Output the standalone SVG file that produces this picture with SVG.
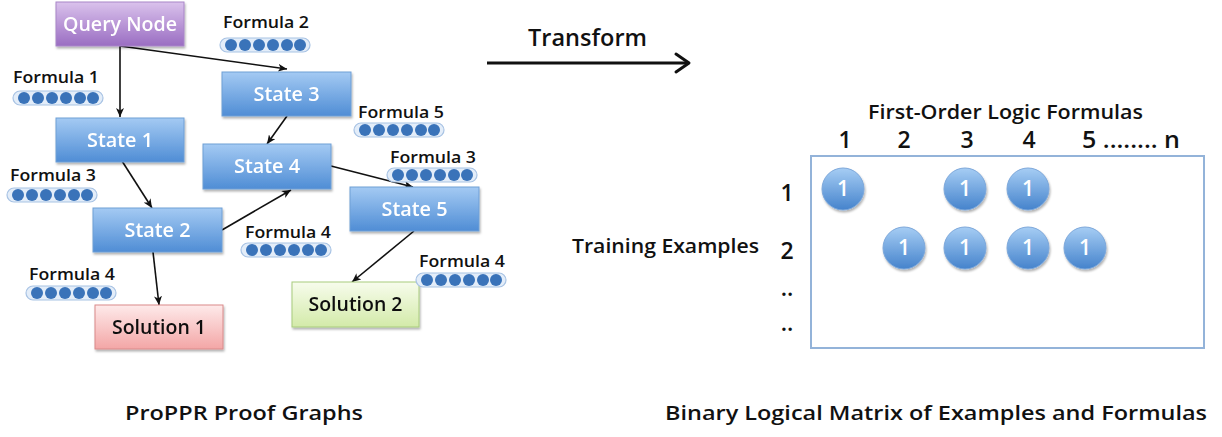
<svg xmlns="http://www.w3.org/2000/svg" width="1222" height="437" viewBox="0 0 1222 437">
<style>
text{font-family:"Open Sans",Lato,"Liberation Sans",sans-serif;font-weight:600}
.nt{fill:#fff;font-size:19px;text-anchor:middle}
.st{fill:#111;font-size:19px;text-anchor:middle}
.fl{fill:#111;font-size:16px}
.lbl{fill:#111;font-size:20px}
.num{fill:#111;font-size:23px;text-anchor:middle}
.one{fill:#fff;font-size:21px;text-anchor:middle}
.state{fill:url(#gState);stroke:#6e9fd6;stroke-width:1}
.pill{fill:#e3edf9;stroke:#a8c3e4;stroke-width:1.2}
.dot{fill:#3a73b9}
.edge{stroke:#111;stroke-width:1.6;fill:none;marker-end:url(#ah)}
.cell{fill:url(#gCirc);stroke:#7ca7da;stroke-width:1}
</style>
<defs>
<linearGradient id="gState" x1="0" y1="0" x2="0" y2="1"><stop offset="0" stop-color="#a4caf3"/><stop offset="1" stop-color="#4f8dd5"/></linearGradient>
<linearGradient id="gQuery" x1="0" y1="0" x2="0" y2="1"><stop offset="0" stop-color="#dac2ec"/><stop offset="1" stop-color="#9a6dc2"/></linearGradient>
<linearGradient id="gSol1" x1="0" y1="0" x2="0" y2="1"><stop offset="0" stop-color="#feeaea"/><stop offset="1" stop-color="#f3a6a6"/></linearGradient>
<linearGradient id="gSol2" x1="0" y1="0" x2="0" y2="1"><stop offset="0" stop-color="#f7fcec"/><stop offset="1" stop-color="#d3eaa9"/></linearGradient>
<linearGradient id="gCirc" x1="0" y1="0" x2="0" y2="1"><stop offset="0" stop-color="#a6cdf4"/><stop offset="1" stop-color="#4583cc"/></linearGradient>
<filter id="sh" x="-10%" y="-10%" width="130%" height="140%"><feDropShadow dx="1" dy="2" stdDeviation="1.2" flood-color="#000" flood-opacity="0.3"/></filter>
<marker id="ah" markerUnits="userSpaceOnUse" markerWidth="10" markerHeight="8" refX="9" refY="4" orient="auto"><path d="M0,0 L9,4 L0,8 L2.5,4 Z" fill="#111"/></marker>
<g id="pillShape">
<rect class="pill" x="0" y="0" width="90" height="14" rx="7"/>
<circle class="dot" cx="11" cy="7" r="6"/><circle class="dot" cx="25" cy="7" r="6"/><circle class="dot" cx="39" cy="7" r="6"/><circle class="dot" cx="53" cy="7" r="6"/><circle class="dot" cx="67" cy="7" r="6"/><circle class="dot" cx="80" cy="7" r="6"/>
</g>
</defs>
<rect width="1222" height="437" fill="#fff"/>

<g id="connectors">
<path class="edge" d="M120,46 L120,117"/>
<path class="edge" d="M120,46 L287,69"/>
<path class="edge" d="M122,161 L152,208"/>
<path class="edge" d="M287,116 L267,144"/>
<path class="edge" d="M222,230 L291,190"/>
<path class="edge" d="M331,166 L413,187"/>
<path class="edge" d="M153,252 L159,305"/>
<path class="edge" d="M414,231 L352,282"/>
</g>

<g id="query-node" filter="url(#sh)"><rect x="56" y="2" width="128" height="44" fill="url(#gQuery)" stroke="#a886c8"/><text class="nt" x="120" y="31" textLength="114" lengthAdjust="spacingAndGlyphs">Query Node</text></g>
<g id="state-1" filter="url(#sh)"><rect class="state" x="56" y="118" width="128" height="44"/><text class="nt" x="120" y="147" textLength="66" lengthAdjust="spacingAndGlyphs">State 1</text></g>
<g id="state-2" filter="url(#sh)"><rect class="state" x="93" y="208" width="129" height="44"/><text class="nt" x="157.5" y="237" textLength="66" lengthAdjust="spacingAndGlyphs">State 2</text></g>
<g id="state-3" filter="url(#sh)"><rect class="state" x="222" y="72" width="129" height="44"/><text class="nt" x="286.5" y="101" textLength="66" lengthAdjust="spacingAndGlyphs">State 3</text></g>
<g id="state-4" filter="url(#sh)"><rect class="state" x="203" y="144" width="128" height="45"/><text class="nt" x="267" y="173" textLength="66" lengthAdjust="spacingAndGlyphs">State 4</text></g>
<g id="state-5" filter="url(#sh)"><rect class="state" x="350" y="187" width="129" height="44"/><text class="nt" x="414.5" y="216" textLength="66" lengthAdjust="spacingAndGlyphs">State 5</text></g>
<g id="solution-1" filter="url(#sh)"><rect x="95" y="305" width="128" height="44" fill="url(#gSol1)" stroke="#d98a8a"/><text class="st" x="159" y="334" textLength="94" lengthAdjust="spacingAndGlyphs">Solution 1</text></g>
<g id="solution-2" filter="url(#sh)"><rect x="292" y="282" width="127" height="45" fill="url(#gSol2)" stroke="#a8cb7c"/><text class="st" x="355.5" y="311" textLength="94" lengthAdjust="spacingAndGlyphs">Solution 2</text></g>

<g id="formula-2"><text class="fl" x="223" y="28" textLength="86" lengthAdjust="spacingAndGlyphs">Formula 2</text><use href="#pillShape" x="220" y="38"/></g>
<g id="formula-1"><text class="fl" x="13" y="83" textLength="86" lengthAdjust="spacingAndGlyphs">Formula 1</text><use href="#pillShape" x="13" y="91"/></g>
<g id="formula-5"><text class="fl" x="358" y="118" textLength="86" lengthAdjust="spacingAndGlyphs">Formula 5</text><use href="#pillShape" x="354" y="123"/></g>
<g id="formula-3-right"><text class="fl" x="390" y="163" textLength="86" lengthAdjust="spacingAndGlyphs">Formula 3</text><use href="#pillShape" x="387" y="168"/></g>
<g id="formula-3-left"><text class="fl" x="10" y="181" textLength="86" lengthAdjust="spacingAndGlyphs">Formula 3</text><use href="#pillShape" x="7" y="188"/></g>
<g id="formula-4-mid"><text class="fl" x="245" y="238" textLength="86" lengthAdjust="spacingAndGlyphs">Formula 4</text><use href="#pillShape" x="241" y="243"/></g>
<g id="formula-4-left"><text class="fl" x="29" y="280" textLength="86" lengthAdjust="spacingAndGlyphs">Formula 4</text><use href="#pillShape" x="26" y="286"/></g>
<g id="formula-4-right"><text class="fl" x="419" y="267" textLength="86" lengthAdjust="spacingAndGlyphs">Formula 4</text><use href="#pillShape" x="416" y="273"/></g>

<g id="transform">
<text class="lbl" x="528" y="46" style="font-size:23px" textLength="119" lengthAdjust="spacingAndGlyphs">Transform</text>
<line x1="487" y1="63" x2="688" y2="63" stroke="#111" stroke-width="3"/>
<polyline points="676,54 689,63 676,72" fill="none" stroke="#111" stroke-width="3" stroke-linejoin="round" stroke-linecap="round"/>
</g>

<g id="matrix">
<text class="lbl" x="868" y="119" textLength="275" lengthAdjust="spacingAndGlyphs">First-Order Logic Formulas</text>
<text class="num" x="845" y="148">1</text>
<text class="num" x="904" y="148">2</text>
<text class="num" x="967" y="148">3</text>
<text class="num" x="1029" y="148">4</text>
<text class="lbl" x="1082" y="148" style="font-size:23px" textLength="98" lengthAdjust="spacingAndGlyphs">5 ........ n</text>
<text class="lbl" x="572" y="253" textLength="187" lengthAdjust="spacingAndGlyphs">Training Examples</text>
<text class="num" x="787" y="201">1</text>
<text class="num" x="787" y="259">2</text>
<text class="num" x="787" y="296">..</text>
<text class="num" x="787" y="331">..</text>
<rect x="811" y="156" width="393" height="192" fill="#fff" stroke="#93b3d9" stroke-width="2"/>
<g filter="url(#sh)">
<circle class="cell" cx="843" cy="189" r="21"/>
<circle class="cell" cx="965" cy="189" r="21"/>
<circle class="cell" cx="1028" cy="189" r="21"/>
<circle class="cell" cx="904" cy="248" r="21"/>
<circle class="cell" cx="965" cy="248" r="21"/>
<circle class="cell" cx="1028" cy="248" r="21"/>
<circle class="cell" cx="1085" cy="248" r="21"/>
</g>
<text class="one" x="843" y="196">1</text>
<text class="one" x="965" y="196">1</text>
<text class="one" x="1028" y="196">1</text>
<text class="one" x="904" y="255">1</text>
<text class="one" x="965" y="255">1</text>
<text class="one" x="1028" y="255">1</text>
<text class="one" x="1085" y="255">1</text>
</g>

<g id="captions">
<text class="lbl" x="125" y="420" textLength="238" lengthAdjust="spacingAndGlyphs">ProPPR Proof Graphs</text>
<text class="lbl" x="665" y="420" textLength="542" lengthAdjust="spacingAndGlyphs">Binary Logical Matrix of Examples and Formulas</text>
</g>
</svg>
